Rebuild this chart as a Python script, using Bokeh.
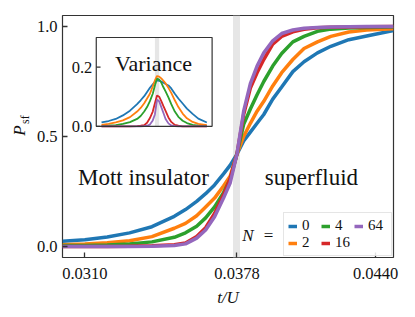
import math
from bokeh.plotting import figure
from bokeh.layouts import row
from bokeh.models import Range1d, FixedTicker, PrintfTickFormatter, Label, Legend, LegendItem
from bokeh.core.properties import value
from bokeh.embed import file_html
from bokeh.resources import INLINE

# ---------------- data ----------------
t_over_U = [0.0300, 0.0310, 0.0320, 0.0330, 0.0340, 0.0350, 0.0355, 0.0360, 0.0364, 0.0368,
            0.0372, 0.0375, 0.0378, 0.0381, 0.0384, 0.0387, 0.0390, 0.0394, 0.0398, 0.0403,
            0.0408, 0.0414, 0.0420, 0.0428, 0.0436, 0.0448]

p_sf_N0 = [0.024, 0.031, 0.043, 0.062, 0.090, 0.137, 0.168, 0.205, 0.240, 0.280,
           0.330, 0.370, 0.420, 0.480, 0.520, 0.560, 0.600, 0.670, 0.725, 0.795,
           0.840, 0.880, 0.910, 0.940, 0.957, 0.982]
p_sf_N2 = [0.008, 0.011, 0.017, 0.026, 0.045, 0.083, 0.105, 0.140, 0.180, 0.220,
           0.275, 0.320, 0.420, 0.500, 0.560, 0.615, 0.660, 0.730, 0.790, 0.850,
           0.900, 0.930, 0.955, 0.975, 0.984, 0.990]
p_sf_N4 = [0.004, 0.005, 0.007, 0.011, 0.021, 0.042, 0.062, 0.092, 0.130, 0.180,
           0.245, 0.305, 0.420, 0.555, 0.625, 0.690, 0.750, 0.820, 0.877, 0.930,
           0.955, 0.978, 0.988, 0.993, 0.996, 0.998]
p_sf_N16 = [0.000, 0.000, 0.000, 0.001, 0.003, 0.008, 0.016, 0.045, 0.085, 0.150,
            0.235, 0.310, 0.420, 0.600, 0.720, 0.790, 0.850, 0.920, 0.955, 0.976,
            0.987, 0.994, 0.997, 0.998, 0.999, 1.000]
p_sf_N64 = [0.000, 0.000, 0.000, 0.000, 0.001, 0.005, 0.012, 0.038, 0.075, 0.135,
            0.220, 0.290, 0.420, 0.615, 0.740, 0.820, 0.880, 0.935, 0.968, 0.984,
            0.992, 0.996, 0.998, 0.999, 1.000, 1.000]

var_N0 = [0.013, 0.018, 0.025, 0.037, 0.053, 0.075, 0.088, 0.102, 0.116, 0.130,
          0.142, 0.150, 0.155, 0.154, 0.151, 0.147, 0.143, 0.138, 0.128, 0.110,
          0.094, 0.077, 0.060, 0.042, 0.026, 0.013]
var_N2 = [0.005, 0.008, 0.013, 0.020, 0.031, 0.050, 0.062, 0.078, 0.094, 0.110,
          0.135, 0.155, 0.170, 0.168, 0.162, 0.154, 0.145, 0.130, 0.113, 0.088,
          0.065, 0.043, 0.027, 0.015, 0.008, 0.004]
var_N4 = [0.001, 0.002, 0.004, 0.008, 0.014, 0.025, 0.035, 0.050, 0.065, 0.085,
          0.110, 0.138, 0.161, 0.158, 0.148, 0.132, 0.118, 0.098, 0.075, 0.050,
          0.032, 0.019, 0.011, 0.005, 0.002, 0.001]
var_N16 = [0.000, 0.000, 0.000, 0.000, 0.000, 0.001, 0.002, 0.004, 0.012, 0.028,
           0.050, 0.078, 0.104, 0.100, 0.085, 0.068, 0.052, 0.030, 0.015, 0.005,
           0.002, 0.000, 0.000, 0.000, 0.000, 0.000]
var_N64 = [0.000, 0.000, 0.000, 0.000, 0.000, 0.000, 0.000, 0.001, 0.002, 0.006,
           0.020, 0.040, 0.090, 0.085, 0.065, 0.045, 0.025, 0.010, 0.003, 0.001,
           0.000, 0.000, 0.000, 0.000, 0.000, 0.000]

N_labels = ["0", "2", "4", "16", "64"]
colors = ["#1f77b4", "#ff7f0e", "#2ca02c", "#d62728", "#9467bd"]
x_ticks = [0.0310, 0.0378, 0.0440]
y_ticks = [0.0, 0.5, 1.0]
inset_y_ticks = [0.0, 0.2]
inset_tick_labels = ["0.0", "0.2"]
critical_tU = 0.0378

# ---------------- figure ----------------
FONT = "Liberation Serif"
TXT = "#111111"
TICK_FS = "16.5px"
x0, x1 = 0.0300, 0.0448
y0, y1 = -0.05, 1.05
H = 309
LAB_W = 32

p = figure(width=30 + 331 + 14, height=H, x_range=Range1d(x0, x1), y_range=Range1d(y0, y1),
           output_backend="svg", toolbar_location=None,
           min_border_left=30, min_border_right=14, min_border_top=15, min_border_bottom=50)
p.grid.visible = False
p.outline_line_color = "#333333"
p.outline_line_width = 1.2
p.background_fill_color = "white"
p.border_fill_color = "white"

p.xaxis.ticker = FixedTicker(ticks=x_ticks, minor_ticks=[])
p.xaxis.formatter = PrintfTickFormatter(format="%.4f")
p.yaxis.ticker = FixedTicker(ticks=y_ticks, minor_ticks=[])
p.yaxis.formatter = PrintfTickFormatter(format="%.1f")
for ax in (p.xaxis, p.yaxis):
    ax.major_tick_in = 5
    ax.major_tick_out = 0
    ax.minor_tick_in = 0
    ax.minor_tick_out = 0
    ax.major_tick_line_color = "#333333"
    ax.major_tick_line_width = 1.3
    ax.axis_line_color = None
    ax.major_label_text_font = FONT
    ax.major_label_text_font_size = TICK_FS
    ax.major_label_text_color = TXT
p.xaxis.major_label_standoff = 10
p.yaxis.major_label_standoff = 5
p.xaxis.axis_label = "t/U"
p.xaxis.axis_label_text_font = FONT
p.xaxis.axis_label_text_font_style = "italic"
p.xaxis.axis_label_text_font_size = "17px"
p.xaxis.axis_label_text_color = TXT
p.xaxis.axis_label_standoff = 6

# critical point band
p.vspan(x=[critical_tU], line_width=7, line_color="#e6e6e6")

series = [p_sf_N0, p_sf_N2, p_sf_N4, p_sf_N16, p_sf_N64]
renderers = []
for ys, c in zip(series, colors):
    r = p.line(t_over_U, ys, line_color=c, line_width=3.5)
    renderers.append(r)

legend = Legend(items=[LegendItem(label=lab_, renderers=[r]) for lab_, r in zip(N_labels, renderers)],
                location="bottom_right", orientation="vertical", nrows=2,
                glyph_width=9, glyph_height=10, label_standoff=5, spacing=0,
                label_height=10, label_width=19, padding=4, margin=1,
                label_text_font=FONT, label_text_font_size="15px", label_text_color=TXT,
                label_text_line_height=1.0,
                border_line_color="#cccccc", border_line_width=1, background_fill_alpha=0.85)
p.add_layout(legend)

# ---------------- inset ----------------
ins_x = Range1d(0.02926, 0.04554)
ins_y = Range1d(0.0, 0.3)
fl, fr, fb, ft = 0.102, 0.452, 0.542, 0.909
tgt_x = Range1d(x0 + fl * (x1 - x0), x0 + fr * (x1 - x0))
tgt_y = Range1d(y0 + fb * (y1 - y0), y0 + ft * (y1 - y0))
sub = p.subplot(x_source=ins_x, y_source=ins_y, x_target=tgt_x, y_target=tgt_y)

sub.quad(left=[ins_x.start], right=[ins_x.end], bottom=[ins_y.start], top=[ins_y.end],
         fill_color="white", line_color=None)
sub.quad(left=[critical_tU - 0.0003], right=[critical_tU + 0.0003], bottom=[ins_y.start], top=[ins_y.end],
         fill_color="#e6e6e6", line_color=None)
for ys, c in zip([var_N0, var_N2, var_N4, var_N16, var_N64], colors):
    sub.line(t_over_U, ys, line_color=c, line_width=1.8)
sub.quad(left=[ins_x.start], right=[ins_x.end], bottom=[ins_y.start], top=[ins_y.end],
         fill_color=None, line_color="#333333", line_width=1.2)
sub.segment(x0=[ins_x.start] * 2, y0=inset_y_ticks, x1=[ins_x.start + 0.0006] * 2, y1=inset_y_ticks,
            line_color="#333333", line_width=1.3)
sub.text(x=[ins_x.start] * 2, y=inset_y_ticks, text=inset_tick_labels, x_offset=-4,
         text_align="right", text_baseline="middle", text_font=value(FONT),
         text_font_size=TICK_FS, text_color=TXT)
sub.text(x=[0.0373], y=[0.211], text=["Variance"], text_align="center", text_baseline="alphabetic",
         text_font=value(FONT), text_font_size="22px", text_color=TXT)

# ---------------- texts ----------------
p.add_layout(Label(x=0.03362, y=0.314, text="Mott insulator", text_align="center",
                   text_baseline="alphabetic", text_font=FONT, text_font_size="23px", text_color=TXT))
p.add_layout(Label(x=0.04113, y=0.314, text="superfluid", text_align="center",
                   text_baseline="alphabetic", text_font=FONT, text_font_size="23px", text_color=TXT))
p.add_layout(Label(x=0.038033, y=0.051, text="N", text_align="left", text_baseline="alphabetic",
                   text_font=FONT, text_font_style="italic", text_font_size="17px", text_color=TXT))
p.add_layout(Label(x=0.038999, y=0.051, text="=", text_align="left", text_baseline="alphabetic",
                   text_font=FONT, text_font_size="17px", text_color=TXT))

# ---------------- y-axis label panel ----------------
lab = figure(width=LAB_W, height=H, x_range=Range1d(0, LAB_W), y_range=Range1d(H, 0),
             output_backend="svg", toolbar_location=None,
             x_axis_location=None, y_axis_location=None,
             min_border=0, min_border_left=0, min_border_right=0, min_border_top=0, min_border_bottom=0)
lab.grid.visible = False
lab.outline_line_color = None
lab.add_layout(Label(x=19, y=147, text="P", angle=math.pi / 2, text_align="center",
                     text_baseline="middle", text_font=FONT, text_font_style="italic",
                     text_font_size="17px", text_color=TXT))
lab.add_layout(Label(x=24, y=133, text="sf", angle=math.pi / 2, text_align="center",
                     text_baseline="middle", text_font=FONT,
                     text_font_size="12px", text_color=TXT))

layout = row(lab, p, spacing=0)
open("out.html", "w").write(file_html(layout, INLINE))
